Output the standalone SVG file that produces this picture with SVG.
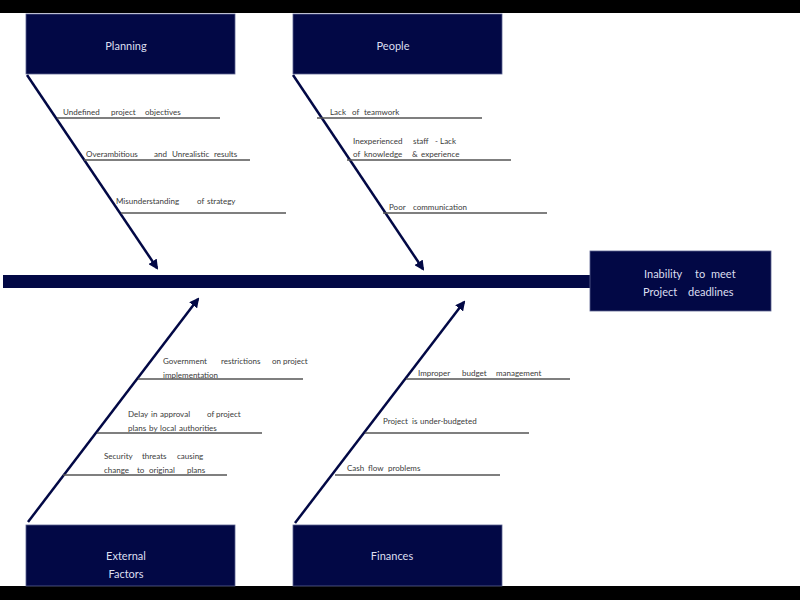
<svg xmlns="http://www.w3.org/2000/svg" width="800" height="600" viewBox="0 0 800 600">
<defs>
<marker id="ah" viewBox="0 0 10 10" refX="8" refY="5" markerWidth="4" markerHeight="4" orient="auto" markerUnits="strokeWidth">
<path d="M0,0 L10,5 L0,10 Z" fill="#020845"/>
</marker>
<style>
.box{fill:#020845;stroke:#5a6290;stroke-width:0.8}
.bt{font-family:Lato,"Open Sans",sans-serif;font-size:11px;fill:#dcdff0}
.lb{font-family:Lato,"Open Sans",sans-serif;font-size:8px;fill:#3a3a3a}
.ul{stroke:#555;stroke-width:1.3}
.bone{stroke:#020845;stroke-width:2.5;fill:none;marker-end:url(#ah)}
</style>
</defs>
<rect x="0" y="0" width="800" height="600" fill="#ffffff"/>
<rect x="0" y="0" width="800" height="13" fill="#000"/>
<rect x="0" y="586" width="800" height="14" fill="#000"/>

<g id="spine">
<rect x="3" y="275" width="588" height="13" fill="#020845"/>
</g>

<g id="connectors">
<line class="bone" x1="27" y1="75" x2="157" y2="268"/>
<line class="bone" x1="293" y1="75" x2="423" y2="269"/>
<line class="bone" x1="28" y1="522" x2="198" y2="299"/>
<line class="bone" x1="295" y1="523" x2="464" y2="302"/>
</g>

<g id="planning">
<rect class="box" x="26" y="14" width="209" height="60"/>
<text class="bt" x="126" y="50" text-anchor="middle">Planning</text>
</g>
<g id="people">
<rect class="box" x="293" y="14" width="209" height="60"/>
<text class="bt" x="393" y="50" text-anchor="middle">People</text>
</g>
<g id="external">
<rect class="box" x="26" y="525" width="209" height="61"/>
<text class="bt" x="126" y="560" text-anchor="middle">External</text>
<text class="bt" x="126" y="578" text-anchor="middle">Factors</text>
</g>
<g id="finances">
<rect class="box" x="293" y="525" width="209" height="61"/>
<text class="bt" x="392" y="560" text-anchor="middle">Finances</text>
</g>
<g id="effect">
<rect class="box" x="590" y="251" width="181" height="60"/>
<text class="bt" y="278"><tspan x="644">Inability</tspan><tspan x="695">to</tspan><tspan x="711">meet</tspan></text>
<text class="bt" y="296"><tspan x="643">Project</tspan><tspan x="688">deadlines</tspan></text>
</g>

<g id="planning-causes">
<text class="lb" y="115"><tspan x="63">Undefined</tspan><tspan x="111">project</tspan><tspan x="145">objectives</tspan></text>
<line class="ul" x1="57" y1="118" x2="220" y2="118"/>
<text class="lb" y="157"><tspan x="86">Overambitious</tspan><tspan x="154">and</tspan><tspan x="172">Unrealistic</tspan><tspan x="214">results</tspan></text>
<line class="ul" x1="84" y1="160" x2="250" y2="160"/>
<text class="lb" y="204"><tspan x="116">Misunderstanding</tspan><tspan x="197">of</tspan><tspan x="207">strategy</tspan></text>
<line class="ul" x1="121" y1="213" x2="286" y2="213"/>
</g>

<g id="people-causes">
<text class="lb" y="115"><tspan x="330">Lack</tspan><tspan x="352">of</tspan><tspan x="364">teamwork</tspan></text>
<line class="ul" x1="317" y1="118" x2="482" y2="118"/>
<text class="lb" y="144"><tspan x="353">Inexperienced</tspan><tspan x="413">staff</tspan><tspan x="435">- Lack</tspan></text>
<text class="lb" y="157"><tspan x="353">of</tspan><tspan x="364">knowledge</tspan><tspan x="412">&amp;</tspan><tspan x="421">experience</tspan></text>
<line class="ul" x1="347" y1="160" x2="511" y2="160"/>
<text class="lb" y="210"><tspan x="389">Poor</tspan><tspan x="413">communication</tspan></text>
<line class="ul" x1="383" y1="213" x2="547" y2="213"/>
</g>

<g id="external-causes">
<text class="lb" y="364"><tspan x="163">Government</tspan><tspan x="221">restrictions</tspan><tspan x="272">on</tspan><tspan x="283">project</tspan></text>
<text class="lb" y="378"><tspan x="163">implementation</tspan></text>
<line class="ul" x1="138" y1="379" x2="303" y2="379"/>
<text class="lb" y="417"><tspan x="128">Delay</tspan><tspan x="151">in</tspan><tspan x="160">approval</tspan><tspan x="207">of</tspan><tspan x="216">project</tspan></text>
<text class="lb" y="431"><tspan x="128">plans</tspan><tspan x="149">by</tspan><tspan x="160">local</tspan><tspan x="179">authorities</tspan></text>
<line class="ul" x1="97" y1="433" x2="262" y2="433"/>
<text class="lb" y="459"><tspan x="104">Security</tspan><tspan x="142">threats</tspan><tspan x="177">causing</tspan></text>
<text class="lb" y="473"><tspan x="104">change</tspan><tspan x="137">to</tspan><tspan x="149">original</tspan><tspan x="187">plans</tspan></text>
<line class="ul" x1="63" y1="475" x2="227" y2="475"/>
</g>

<g id="finances-causes">
<text class="lb" y="376"><tspan x="418">Improper</tspan><tspan x="462">budget</tspan><tspan x="496">management</tspan></text>
<line class="ul" x1="406" y1="379" x2="570" y2="379"/>
<text class="lb" y="424"><tspan x="383">Project</tspan><tspan x="412">is</tspan><tspan x="420">under-budgeted</tspan></text>
<line class="ul" x1="365" y1="433" x2="529" y2="433"/>
<text class="lb" y="471"><tspan x="347">Cash</tspan><tspan x="368">flow</tspan><tspan x="388">problems</tspan></text>
<line class="ul" x1="335" y1="475" x2="500" y2="475"/>
</g>
</svg>
